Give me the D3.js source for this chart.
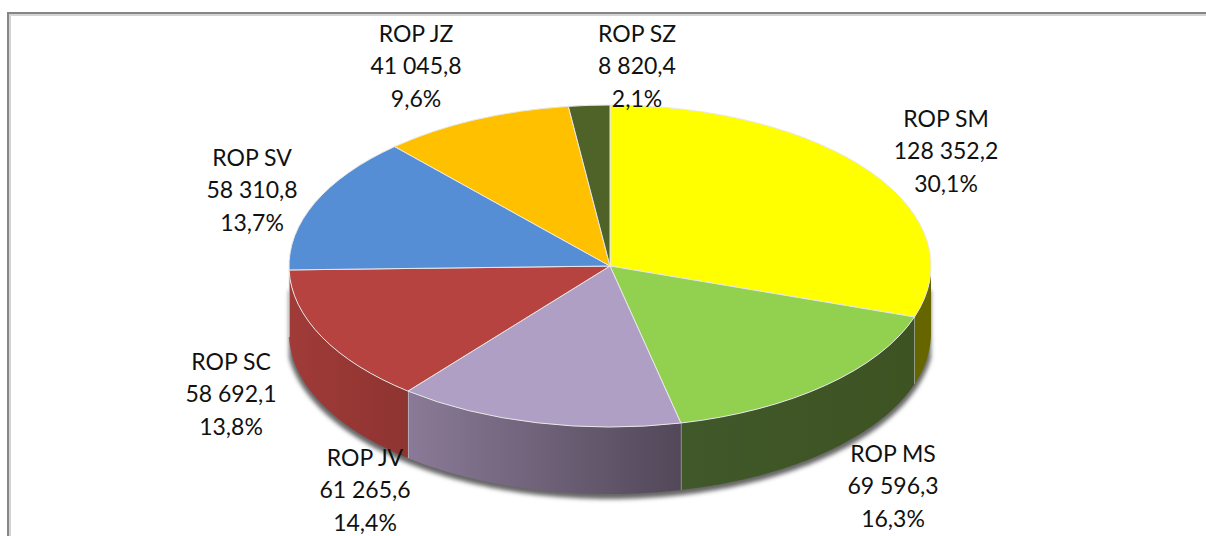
<!DOCTYPE html>
<html>
<head>
<meta charset="utf-8">
<title>ROP</title>
<style>
    html, body { margin: 0; padding: 0; background: #fff; overflow: hidden; }
    svg { display: block; }
    text { font-family: Lato, "Open Sans", sans-serif; font-size: 23px; fill: #111; text-anchor: middle; }
</style>
<script src="https://cdnjs.cloudflare.com/ajax/libs/d3/7.8.5/d3.min.js"></script>
</head>
<body>
<svg id="chart" width="1206" height="536"></svg>
<script>
    // values as printed in the data labels, clockwise from 12 o'clock
    var categories = ['ROP SM', 'ROP MS', 'ROP JV', 'ROP SC', 'ROP SV', 'ROP JZ', 'ROP SZ'];
    var values = [128352.2, 69596.3, 61265.6, 58692.1, 58310.8, 41045.8, 8820.4];

    var topColors = ['#ffff00', '#92d050', '#b09fc5', '#b74340', '#558ed5', '#ffc000', '#4f6228'];
    var sideLight = ['#666600', '#40582a', '#8a7a97', '#a03b38', '#3f6ba0', '#bf9000', '#3b4a1e'];
    var sideDark = ['#666600', '#3e5322', '#524859', '#8e3431', '#3f6ba0', '#bf9000', '#3b4a1e'];

    var CX = 610, CY = 266, RX = 321, RY = 161, DEPTH = 67;

    // label centre x and first baseline y, same order as categories
    var LABEL_SPOTS = [[946, 127], [893, 462], [365, 466], [231, 370], [252, 166], [416, 42], [637, 42]];

    var svg = d3.select('#chart');
    var defs = svg.append('defs');
    var locale = d3.formatLocale({decimal: ',', thousands: ' ', grouping: [3], currency: ['', '']});
    var fmtValue = locale.format(',.1f');
    var fmtShare = locale.format('.1%');
    var total = d3.sum(values);

    var slices = d3.pie().sort(null)(values);

    // unit scales: pie angle -> position on the flattened disc
    var xScale = d3.scaleLinear().domain([-1, 1]).range([CX - RX, CX + RX]);
    var yScale = d3.scaleLinear().domain([-1, 1]).range([CY - RY, CY + RY]);
    var line = d3.line().x(function (d) { return d[0]; }).y(function (d) { return d[1]; });

    function rimPoint(angle, drop) {
        return [xScale(Math.sin(angle)), yScale(-Math.cos(angle)) + drop];
    }

    function rimPoints(a0, a1, drop) {
        var steps = Math.max(2, Math.ceil((a1 - a0) * 80));
        return d3.range(steps + 1).map(function (i) {
            return rimPoint(a0 + (a1 - a0) * i / steps, drop);
        });
    }

    // front wall between two angles
    function wallPath(a0, a1) {
        return line(rimPoints(a0, a1, 0).concat(rimPoints(a0, a1, DEPTH).reverse())) + 'Z';
    }

    // soft shadow hugging the lower rim, kept off the top of the wall
    defs.append('filter').attr('id', 'soft')
        .attr('x', '-10%').attr('y', '-10%').attr('width', '120%').attr('height', '120%')
        .append('feGaussianBlur').attr('stdDeviation', 2);

    svg.append('path')
        .attr('d', wallPath(Math.PI / 2 + 0.14, Math.PI * 1.5 - 0.14))
        .attr('transform', 'translate(0,2)')
        .attr('fill', '#666')
        .attr('stroke', '#666')
        .attr('stroke-width', 6)
        .attr('filter', 'url(#soft)');

    // walls
    var walls = svg.append('g');
    slices.forEach(function (s, i) {
        var a0 = Math.max(s.startAngle, Math.PI / 2),
            a1 = Math.min(s.endAngle, Math.PI * 1.5);
        if (a1 <= a0) return;

        var pts = rimPoints(a0, a1, 0),
            xs = d3.extent(pts, function (p) { return p[0]; }),
            id = 'wall-' + i;

        // left end of the wall is always the lighter one
        var grad = defs.append('linearGradient').attr('id', id)
            .attr('gradientUnits', 'userSpaceOnUse')
            .attr('x1', xs[0]).attr('x2', xs[1]).attr('y1', 0).attr('y2', 0);
        grad.append('stop').attr('offset', 0).attr('stop-color', sideLight[i]);
        grad.append('stop').attr('offset', 1).attr('stop-color', sideDark[i]);

        walls.append('path')
            .attr('d', wallPath(a0, a1))
            .attr('fill', 'url(#' + id + ')');

        // edge between two walls
        if (s.endAngle < Math.PI * 1.5) {
            var p = rimPoint(s.endAngle, 0);
            walls.append('path')
                .attr('d', line([p, rimPoint(s.endAngle, DEPTH)]))
                .attr('stroke', '#e6e6e6')
                .attr('stroke-width', 1)
                .attr('fill', 'none');
        }
    });

    // top face, a d3.arc circle squashed to the disc
    var arc = d3.arc().innerRadius(0).outerRadius(RX);
    svg.append('g')
        .attr('transform', 'translate(' + CX + ',' + CY + ') scale(1,' + (RY / RX) + ')')
        .selectAll('path')
        .data(slices)
        .join('path')
        .attr('d', arc)
        .attr('fill', function (d, i) { return topColors[i]; })
        .attr('stroke', '#e8e8e8')
        .attr('stroke-width', 1)
        .attr('stroke-linejoin', 'round')
        .attr('vector-effect', 'non-scaling-stroke');

    // chart frame, cut off by the crop on the right and at the bottom
    svg.append('path')
        .attr('d', 'M8.5,536V13.5H1206')
        .attr('fill', 'none')
        .attr('stroke', '#d4d4d4')
        .attr('stroke-width', 3)
        .attr('transform', 'translate(1,1)');
    svg.append('path')
        .attr('d', 'M8,536V13H1206')
        .attr('fill', 'none')
        .attr('stroke', '#868686')
        .attr('stroke-width', 2);

    // data labels
    var labels = svg.append('g').selectAll('text')
        .data(categories)
        .join('text')
        .attr('transform', function (d, i) {
            return 'translate(' + LABEL_SPOTS[i][0] + ',' + LABEL_SPOTS[i][1] + ')';
        });

    labels.each(function (d, i) {
        var lines = [d, fmtValue(values[i]), fmtShare(values[i] / total)];
        d3.select(this).selectAll('tspan')
            .data(lines)
            .join('tspan')
            .attr('x', 0)
            .attr('y', function (t, j) { return j * 32.4; })
            .text(function (t) { return t; });
    });
</script>
</body>
</html>
